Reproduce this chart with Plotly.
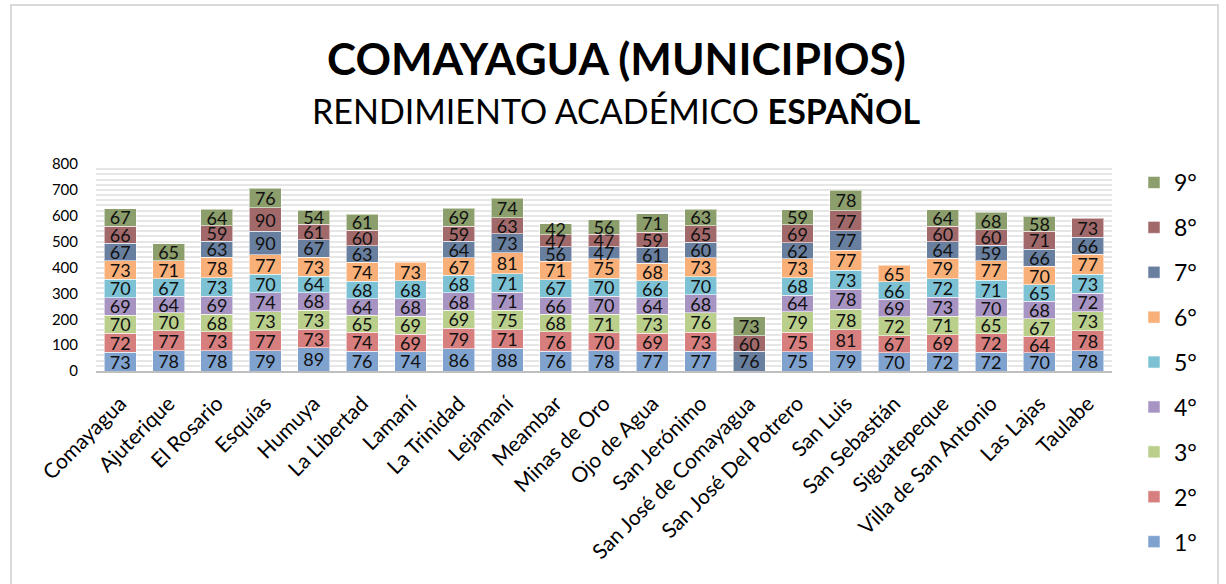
import plotly.graph_objects as go

municipios = ["Comayagua", "Ajuterique", "El Rosario", "Esquías", "Humuya", "La Libertad",
              "Lamaní", "La Trinidad", "Lejamaní", "Meambar", "Minas de Oro", "Ojo de Agua",
              "San Jerónimo", "San José de Comayagua", "San José Del Potrero", "San Luis",
              "San Sebastián", "Siguatepeque", "Villa de San Antonio", "Las Lajas", "Taulabe"]

g1 = [73, 78, 78, 79, 89, 76, 74, 86, 88, 76, 78, 77, 77, None, 75, 79, 70, 72, 72, 70, 78]
g2 = [72, 77, 73, 77, 73, 74, 69, 79, 71, 76, 70, 69, 73, None, 75, 81, 67, 69, 72, 64, 78]
g3 = [70, 70, 68, 73, 73, 65, 69, 69, 75, 68, 71, 73, 76, None, 79, 78, 72, 71, 65, 67, 73]
g4 = [69, 64, 69, 74, 68, 64, 68, 68, 71, 66, 70, 64, 68, None, 64, 78, 69, 73, 70, 68, 72]
g5 = [70, 67, 73, 70, 64, 68, 68, 68, 71, 67, 70, 66, 70, None, 68, 73, 66, 72, 71, 65, 73]
g6 = [73, 71, 78, 77, 73, 74, 73, 67, 81, 71, 75, 68, 73, None, 73, 77, 65, 79, 77, 70, 77]
g7 = [67, None, 63, 90, 67, 63, None, 64, 73, 56, 47, 61, 60, 76, 62, 77, None, 64, 59, 66, 66]
g8 = [66, None, 59, 90, 61, 60, None, 59, 63, 47, 47, 59, 65, 60, 69, 77, None, 60, 60, 71, 73]
g9 = [67, 65, 64, 76, 54, 61, None, 69, 74, 42, 56, 71, 63, 73, 59, 78, None, 64, 68, 58, None]

series_names = ["1°", "2°", "3°", "4°", "5°", "6°", "7°", "8°", "9°"]
series_values = [g1, g2, g3, g4, g5, g6, g7, g8, g9]
colors = ["#7fa2cf", "#d77f7f", "#b9cf8b", "#a894c2", "#7cc2d4", "#f8b078", "#687f9f", "#a2696b", "#8b9e6b"]

y_ticks = [0, 100, 200, 300, 400, 500, 600, 700, 800]

FONT = "Lato"

fig = go.Figure()
for i, (name, vals, col) in enumerate(zip(series_names, series_values, colors)):
    fig.add_trace(go.Bar(
        x=municipios, y=vals, name=name, legendgroup=name,
        legendrank=100 - i,
        marker=dict(color=col, line=dict(color="rgba(255,255,255,0.55)", width=1)),
        text=[("" if v is None else str(v)) for v in vals],
        textposition="inside", insidetextanchor="middle", textangle=0,
        constraintext="none",
        textfont=dict(family=FONT, size=18, color="#111111"),
        hoverinfo="x+y+name",
    ))

W0, W1 = 96, 1112
T0, B0 = 164, 371
def px_x(p):
    return (p - W0) / (W1 - W0)
def px_y(p):
    return (B0 - p) / (B0 - T0)

fig.update_layout(
    width=1226, height=584,
    barmode="stack", bargap=0.34,
    paper_bgcolor="white", plot_bgcolor="white",
    margin=dict(l=W0, r=1226 - W1, t=T0, b=584 - B0, autoexpand=False),
    font=dict(family=FONT, color="#000000"),
    showlegend=True,
    legend=dict(
        traceorder="grouped", tracegroupgap=12, maxheight=440,
        x=px_x(1134), xanchor="left", y=px_y(161), yanchor="top",
        font=dict(family=FONT, size=23, color="#000000"),
        bgcolor="rgba(0,0,0,0)",
    ),
    xaxis=dict(
        tickangle=-45, tickfont=dict(family=FONT, size=21, color="#000000"),
        ticklabelstandoff=10,
        showline=True, linecolor="#bfbfbf", linewidth=2,
        showgrid=False, ticks="", fixedrange=True,
    ),
    yaxis=dict(
        range=[0, 800], tickvals=y_ticks,
        tickfont=dict(family=FONT, size=15, color="#000000"),
        showgrid=True, gridcolor="#e6e6e6", gridwidth=2,
        minor=dict(dtick=20, showgrid=True, gridcolor="#e6e6e6", gridwidth=2),
        zeroline=False, ticks="outside", ticklen=14, tickcolor="rgba(0,0,0,0)",
        showline=False,
    ),
    annotations=[
        dict(text="<b>COMAYAGUA (MUNICIPIOS)</b>", x=px_x(616), y=px_y(58),
             xref="paper", yref="paper", showarrow=False, xanchor="center", yanchor="middle",
             font=dict(family=FONT, size=44, color="#000000")),
        dict(text="RENDIMIENTO ACADÉMICO <b>ESPAÑOL</b>", x=px_x(616), y=px_y(110),
             xref="paper", yref="paper", showarrow=False, xanchor="center", yanchor="middle",
             font=dict(family=FONT, size=34, color="#000000")),
    ],
    shapes=[
        dict(type="rect", xref="paper", yref="paper",
             x0=px_x(11), x1=px_x(1218), y0=px_y(600), y1=px_y(5),
             line=dict(color="#d9d9d9", width=2), fillcolor="rgba(0,0,0,0)", layer="below"),
    ],
)

fig.write_html("out.html", config={"displayModeBar": False},
               post_script="document.body.style.margin='0';document.body.style.overflow='hidden';")
